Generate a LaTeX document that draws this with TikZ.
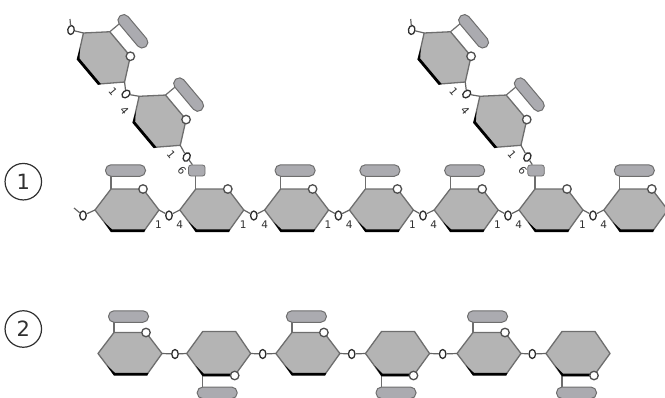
\documentclass[tikz,border=0pt]{standalone}
\usepackage{fontspec}
\setmainfont{DejaVu Sans}
\usetikzlibrary{shapes.geometric}
\definecolor{ringgray}{HTML}{B4B4B4}
\definecolor{bargray}{HTML}{ABABB0}
\definecolor{edgegray}{HTML}{6E6E6E}
\definecolor{linkdark}{HTML}{303030}

% ring with its oxygen on top: name, x, y, rotation, bar lift, bar style
\newcommand{\ringup}[6]{
	\begin{scope}[shift={(#2,#3)},rotate=#4]
	\coordinate (#1-l) at (-32,0);
	\coordinate (#1-tl) at (-16,-21);
	\coordinate (#1-ox) at (16,-21);
	\coordinate (#1-r) at (32,0);
	\coordinate (#1-br) at (17,21);
	\coordinate (#1-bl) at (-16,21);
	\draw[stem] (#1-tl) -- (-16,-#5);
	\node (#1-bar) [#6] at (-1.5,-#5) {};
	\draw[ringface] (#1-l) -- (#1-tl) -- (#1-ox) -- (#1-r) -- (#1-br) -- (#1-bl) -- cycle;
	\fill[black] (-23,12) -- (-16,22.2) -- (17.2,22.2) -- (18.4,19.4) -- (-15,19.4) -- cycle;
	\node (#1-o) [ringo] at (#1-ox) {};
	\end{scope}
}
% flipped ring, oxygen and bar below: name, x, y
\newcommand{\ringdown}[3]{
	\begin{scope}[shift={(#2,#3)}]
	\coordinate (#1-l) at (-32,0);
	\coordinate (#1-tl) at (-16,-22);
	\coordinate (#1-tr) at (17,-22);
	\coordinate (#1-r) at (32,0);
	\coordinate (#1-ox) at (16,22);
	\coordinate (#1-bl) at (-16,22);
	\draw[stem] (#1-bl) -- (-16,39.3);
	\node (#1-bar) [sidebar] at (-1.5,39.3) {};
	\draw[ringface] (#1-l) -- (#1-tl) -- (#1-tr) -- (#1-r) -- (#1-ox) -- (#1-bl) -- cycle;
	\fill[black] (-23,12) -- (-16,22.8) -- (14,22.8) -- (14,20) -- (-15,20) -- cycle;
	\node (#1-o) [ringo] at (#1-ox) {};
	\end{scope}
}

\begin{document}
\begin{tikzpicture}[x=1pt,y=-1pt,
	stem/.style={draw=edgegray,line width=1.2pt},
	bond/.style={draw=linkdark!75,line width=1.2pt},
	ringface/.style={draw=edgegray,line width=1.3pt,fill=ringgray,line join=round},
	ringo/.style={circle,draw=linkdark!85,line width=1.3pt,fill=white,minimum size=8.5pt,inner sep=0pt},
	linko/.style={ellipse,draw=linkdark,line width=1.3pt,fill=white,minimum width=6.5pt,minimum height=9pt,inner sep=0pt},
	sidebar/.style={rectangle,rounded corners=5.5pt,draw=edgegray,line width=1pt,fill=bargray,minimum width=40pt,minimum height=11.5pt,inner sep=0pt,transform shape},
	sidestub/.style={rectangle,rounded corners=2.5pt,draw=edgegray,line width=0.8pt,fill=bargray,minimum width=16.5pt,minimum height=11pt,inner sep=0pt,xshift=-13.5pt},
	num/.style={font=\fontsize{10.5}{11}\selectfont,text=linkdark,inner sep=0pt},
	tagmark/.style={circle,draw=linkdark,line width=1.2pt,minimum size=36.5pt,inner sep=0pt,font=\fontsize{21}{23}\selectfont,text=linkdark}]
	\useasboundingbox (0,0) rectangle (665,397);

	\node (tag1) [tagmark] at (23.3,181.7) {1};
	\node (tag2) [tagmark] at (23.3,329) {2};

	% first chain
	\foreach \i/\x/\bartype in {1/127/sidebar,2/211.8/sidestub,3/296.6/sidebar,4/381.4/sidebar,5/466.2/sidebar,6/551/sidestub,7/635.8/sidebar}
		\ringup{a\i}{\x}{210}{0}{39.5}{\bartype};
	\coordinate (astart) at (74,208);
	\node (lk0) [linko] at (83,215.5) {};
	\draw[bond] (astart) -- (lk0) -- (a1-l);
	\foreach \i/\j/\x in {1/2/169,2/3/253.8,3/4/338.4,4/5/423,5/6/508,6/7/593}{
		\node (lk\i) [linko] at (\x,215.5) {};
		\draw[bond] (a\i-r) -- (lk\i) -- (a\j-l);
		\node (nb\i) [num] at (\x-10.5,225) {1};
		\node (nf\i) [num] at (\x+10.8,225) {4};
	}

	% side chains
	\foreach \s/\dx/\t in {p/0/a2,q/340.7/a6}{
		\ringup{\s1}{104+\dx}{57.5}{-50}{39}{sidebar};
		\ringup{\s2}{159.7+\dx}{120.8}{-50}{39}{sidebar};
		\coordinate (\s start) at (70+\dx,19);
		\node (\s k0) [linko,rotate=-10] at (71+\dx,30) {};
		\node (\s k1) [linko,rotate=-50] at (126+\dx,94) {};
		\node (\s k2) [linko,rotate=-30] at (186.7+\dx,157) {};
		\draw[bond] (\s start) -- (\s k0) -- (\s1-l);
		\draw[bond] (\s1-r) -- (\s k1) -- (\s2-l);
		\draw[bond] (\s2-r) -- (\s k2) -- (\t-bar);
		\node (\s n1) [num,rotate=-50] at (113+\dx,92) {1};
		\node (\s n4) [num,rotate=-50] at (124.5+\dx,111) {4};
		\node (\s n2) [num,rotate=-50] at (171.3+\dx,155) {1};
		\node (\s n6) [num,rotate=-50] at (182+\dx,170.5) {6};
	}

	% second chain
	\ringup{b1}{130}{353.5}{0}{37}{sidebar};
	\ringdown{b2}{218.7}{353.5};
	\ringup{b3}{307.9}{353.5}{0}{37}{sidebar};
	\ringdown{b4}{397.5}{353.5};
	\ringup{b5}{489}{353.5}{0}{37}{sidebar};
	\ringdown{b6}{578}{353.5};
	\foreach \i/\j/\x in {1/2/175,2/3/262.7,3/4/351.7,4/5/442.7,5/6/532.3}{
		\node (mk\i) [linko] at (\x,354) {};
		\draw[bond] (b\i-r) -- (mk\i) -- (b\j-l);
	}
\end{tikzpicture}
\end{document}
